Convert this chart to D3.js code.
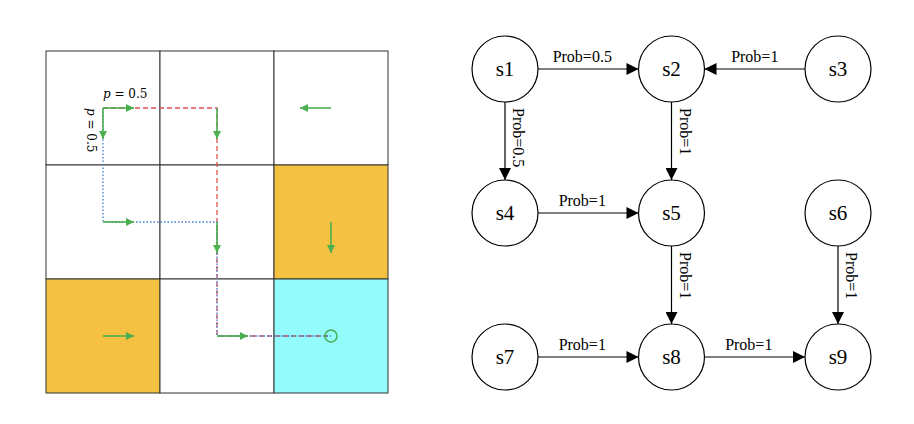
<!DOCTYPE html><html><head><script src="https://cdn.jsdelivr.net/npm/d3@7"></script>
<style>body{margin:0;background:#fff}</style></head><body><svg width="914" height="424"></svg><script>
const cells=[[0,0,'#fff'],[0,1,'#fff'],[0,2,'#fff'],[1,0,'#fff'],[1,1,'#fff'],[1,2,'#f4c142'],[2,0,'#f4c142'],[2,1,'#fff'],[2,2,'#93fbfb']];
const policyArrows=[[0,2,-1,0],[1,2,0,1],[2,0,1,0]];
const pathArrows=[[0,0,1,0],[0,0,0,1],[0,1,0,1],[1,0,1,0],[1,1,0,1],[2,1,1,0]];
const redPath=[[0,0],[0,1],[1,1],[2,1],[2,2]];
const bluePath=[[0,0],[1,0],[1,1],[2,1],[2,2]];
const nodes=[["s1",0,0],["s2",1,0],["s3",2,0],["s4",0,1],["s5",1,1],["s6",2,1],["s7",0,2],["s8",1,2],["s9",2,2]];
const edges=[["s1","s2","Prob=0.5"],["s3","s2","Prob=1"],["s1","s4","Prob=0.5"],["s2","s5","Prob=1"],["s4","s5","Prob=1"],["s5","s8","Prob=1"],["s6","s9","Prob=1"],["s7","s8","Prob=1"],["s8","s9","Prob=1"]];
const svg=d3.select("svg");
const gx=d3.scaleLinear().domain([0,3]).range([46,388]);
const gy=d3.scaleLinear().domain([0,3]).range([51,393]);
const c=114, cx=i=>gx(i+0.5), cy=i=>gy(i+0.5);
const defs=svg.append("defs");
defs.append("marker").attr("id","ga").attr("viewBox","0 0 10 10").attr("refX",10).attr("refY",5).attr("markerWidth",10).attr("markerHeight",8).attr("markerUnits","userSpaceOnUse").attr("orient","auto").append("path").attr("d","M0,0L10,5L0,10Z").attr("fill","#4caf50");
defs.append("marker").attr("id","ba").attr("viewBox","0 0 10 10").attr("refX",10).attr("refY",5).attr("markerWidth",14).attr("markerHeight",12).attr("markerUnits","userSpaceOnUse").attr("orient","auto").append("path").attr("d","M0,0L10,5L0,10Z").attr("fill","#000");
svg.selectAll(".cell").data(cells).join("rect").attr("x",d=>gx(d[1])).attr("y",d=>gy(d[0])).attr("width",c).attr("height",c).attr("fill",d=>d[2]).attr("stroke","#333").attr("stroke-width",1);
const ln=d3.line().x(d=>cx(d[1])).y(d=>cy(d[0]));
svg.append("path").attr("d",ln(redPath)).attr("fill","none").attr("stroke","#d9534f").attr("stroke-width",1.3).attr("stroke-dasharray","5,3");
svg.append("path").attr("d",ln(bluePath)).attr("fill","none").attr("stroke","#3b7dd8").attr("stroke-width",1.3).attr("stroke-dasharray","1.5,2");
const L=31;
svg.selectAll(".pa").data(policyArrows.concat(pathArrows)).join("line").attr("x1",d=>cx(d[1])).attr("y1",d=>cy(d[0])).attr("x2",d=>cx(d[1])+d[2]*L).attr("y2",d=>cy(d[0])+d[3]*L).attr("stroke","#4caf50").attr("stroke-width",1.6).attr("marker-end","url(#ga)");
svg.append("circle").attr("cx",cx(2)).attr("cy",cy(2)).attr("r",6).attr("fill","none").attr("stroke","#4caf50").attr("stroke-width",1.5);
const pl=(g)=>{g.append("tspan").attr("font-style","italic").text("p");g.append("tspan").text(" = 0.5");};
svg.append("text").attr("x",cx(0)).attr("y",cy(0)-10).attr("font-family","DejaVu Serif").attr("font-size",12).call(pl);
svg.append("text").attr("transform",`translate(${cx(0)-16},${cy(0)}) rotate(90)`).attr("font-family","DejaVu Serif").attr("font-size",12).call(pl);
const nx=d3.scalePoint().domain([0,1,2]).range([505,838]);
const ny=d3.scalePoint().domain([0,1,2]).range([69,357]);
const R=33, pos={};nodes.forEach(n=>pos[n[0]]=[nx(n[1]),ny(n[2])]);
const F="Liberation Serif";
edges.forEach(([a,b,t])=>{const [x1,y1]=pos[a],[x2,y2]=pos[b];const dx=Math.sign(x2-x1),dy=Math.sign(y2-y1);
svg.append("line").attr("x1",x1+dx*R).attr("y1",y1+dy*R).attr("x2",x2-dx*R).attr("y2",y2-dy*R).attr("stroke","#000").attr("stroke-width",1.2).attr("marker-end","url(#ba)");
if(dy===0){svg.append("text").attr("x",(x1+x2)/2+(dx>0?-6:0)).attr("y",y1-7).attr("text-anchor","middle").attr("font-family",F).attr("font-size",16).text(t);}
else{svg.append("text").attr("transform",`translate(${x1+8},${y1+R+6}) rotate(90)`).attr("font-family",F).attr("font-size",16).text(t);}});
svg.selectAll(".n").data(nodes).join("circle").attr("cx",d=>pos[d[0]][0]).attr("cy",d=>pos[d[0]][1]).attr("r",R).attr("fill","#fff").attr("stroke","#000").attr("stroke-width",1.2);
svg.selectAll(".nt").data(nodes).join("text").attr("x",d=>pos[d[0]][0]).attr("y",d=>pos[d[0]][1]+7).attr("text-anchor","middle").attr("font-family",F).attr("font-size",21).text(d=>d[0]);
</script></body></html>
